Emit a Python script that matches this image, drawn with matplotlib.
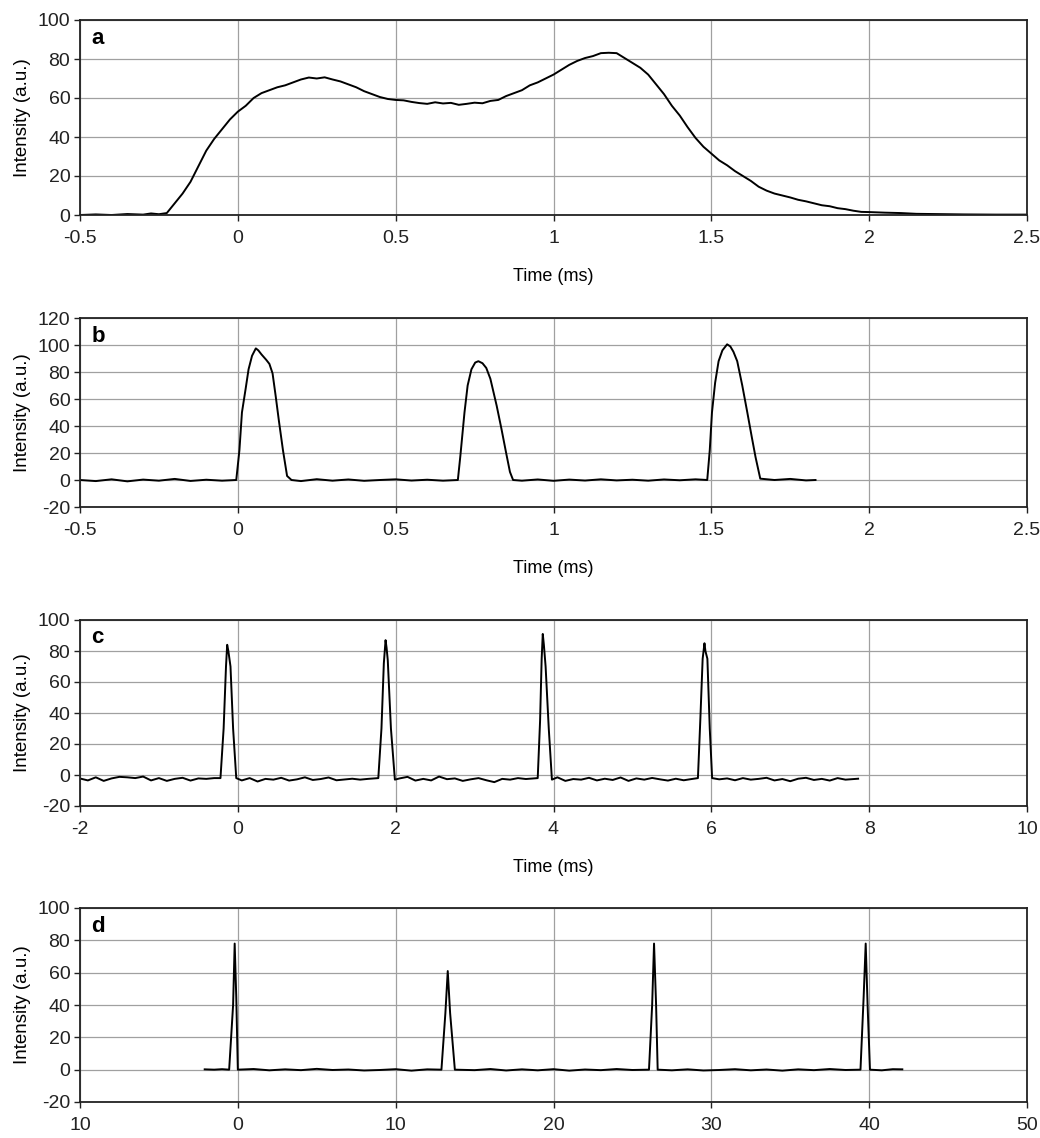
import matplotlib
matplotlib.use("Agg")
import matplotlib.pyplot as plt

plt.rcParams['font.family'] = ['Liberation Sans', 'DejaVu Sans']
plt.rcParams['axes.unicode_minus'] = False

# --- panel a: single broad pulse ---
a_t = [-0.5, -0.45, -0.4, -0.35, -0.3, -0.275, -0.25, -0.225, -0.2, -0.175,
       -0.15, -0.125, -0.1, -0.075, -0.05, -0.025, 0.0, 0.025, 0.05, 0.075,
       0.1, 0.125, 0.15, 0.175, 0.2, 0.225, 0.25, 0.275, 0.3, 0.325,
       0.35, 0.375, 0.4, 0.425, 0.45, 0.475, 0.5, 0.525, 0.55, 0.575,
       0.6, 0.625, 0.65, 0.675, 0.7, 0.725, 0.75, 0.775, 0.8, 0.825,
       0.85, 0.875, 0.9, 0.925, 0.95, 0.975, 1.0, 1.025, 1.05, 1.075,
       1.1, 1.125, 1.15, 1.175, 1.2, 1.225, 1.25, 1.275, 1.3, 1.325,
       1.35, 1.375, 1.4, 1.425, 1.45, 1.475, 1.5, 1.525, 1.55, 1.575,
       1.6, 1.625, 1.65, 1.675, 1.7, 1.725, 1.75, 1.775, 1.8, 1.825,
       1.85, 1.875, 1.9, 1.925, 1.95, 1.975, 2.0, 2.05, 2.1, 2.15,
       2.2, 2.3, 2.4, 2.5]
a_v = [0.0, 0.3, 0.0, 0.5, 0.2, 0.8, 0.4, 1.0, 6, 11,
       17, 25, 33, 39, 44, 49, 53, 56, 60, 62.5,
       64, 65.5, 66.5, 68, 69.5, 70.5, 70, 70.6, 69.5, 68.5,
       67, 65.5, 63.5, 62, 60.5, 59.5, 59, 58.8, 58, 57.4,
       57, 57.8, 57.2, 57.5, 56.5, 57, 57.6, 57.3, 58.5, 59,
       61, 62.5, 64, 66.5, 68, 70, 72, 74.5, 77, 79,
       80.5, 81.5, 83, 83.2, 83, 80.5, 78, 75.5, 72, 67,
       62, 56, 51, 45, 39.5, 35, 31.5, 28, 25.5, 22.5,
       20, 17.5, 14.5, 12.5, 11, 10, 9, 7.8, 7, 6,
       5, 4.5, 3.5, 3, 2.2, 1.6, 1.5, 1.2, 1.0, 0.6,
       0.5, 0.3, 0.2, 0.2]

# --- panel b: three pulses ---
b_t = [-0.5, -0.45, -0.4, -0.35, -0.3, -0.25, -0.2, -0.15, -0.1, -0.05,
       -0.005, 0.005, 0.013, 0.025, 0.034, 0.045, 0.057, 0.065, 0.075, 0.09,
       0.1, 0.11, 0.12, 0.13, 0.143, 0.156, 0.17, 0.2, 0.25, 0.3,
       0.35, 0.4, 0.45, 0.5, 0.55, 0.6, 0.65, 0.697, 0.705, 0.718,
       0.728, 0.74, 0.752, 0.762, 0.775, 0.787, 0.8, 0.81, 0.82, 0.835,
       0.85, 0.862, 0.872, 0.9, 0.95, 1.0, 1.05, 1.1, 1.15, 1.2,
       1.25, 1.3, 1.35, 1.4, 1.45, 1.487, 1.495, 1.502, 1.512, 1.523,
       1.535, 1.55, 1.56, 1.57, 1.582, 1.598, 1.614, 1.628, 1.64, 1.655,
       1.7, 1.75, 1.8, 1.83]
b_v = [0, -0.8, 0.5, -1, 0.3, -0.5, 0.8, -0.7, 0.2, -0.5,
       0, 22, 50, 68, 82, 92, 97.5, 96, 93, 89,
       86, 79, 62, 44, 22, 3, 0, -0.8, 0.6, -0.5,
       0.4, -0.6, 0, 0.5, -0.4, 0.2, -0.5, 0, 18, 50,
       70, 82, 87, 88, 86.5, 83, 75, 65, 55, 38,
       20, 6, 0, -0.5, 0.4, -0.6, 0.3, -0.4, 0.5, -0.3,
       0.2, -0.5, 0.4, -0.2, 0.5, 0, 22, 50, 72, 88,
       96, 100.5, 99, 95, 88, 70, 50, 32, 17, 1,
       0, 0.8, -0.3, 0]

# --- panel c: four narrow pulses, 2 ms apart ---
c_t = [-1.98, -1.9, -1.8, -1.7, -1.6, -1.5, -1.4, -1.3, -1.2, -1.1,
       -1.0, -0.9, -0.8, -0.7, -0.6, -0.5, -0.4, -0.3, -0.22, -0.18,
       -0.15, -0.135, -0.12, -0.093, -0.06, -0.02, 0.05, 0.15, 0.25, 0.35,
       0.45, 0.55, 0.65, 0.75, 0.85, 0.95, 1.05, 1.15, 1.25, 1.35,
       1.45, 1.55, 1.65, 1.78, 1.82, 1.85, 1.872, 1.885, 1.9, 1.94,
       1.99, 2.05, 2.15, 2.25, 2.35, 2.45, 2.55, 2.65, 2.75, 2.85,
       2.95, 3.05, 3.15, 3.25, 3.35, 3.45, 3.55, 3.65, 3.8, 3.83,
       3.85, 3.864, 3.878, 3.9, 3.94, 3.98, 4.05, 4.15, 4.25, 4.35,
       4.45, 4.55, 4.65, 4.75, 4.85, 4.95, 5.05, 5.15, 5.25, 5.35,
       5.45, 5.55, 5.65, 5.75, 5.83, 5.86, 5.89, 5.913, 5.925, 5.95,
       5.98, 6.01, 6.1, 6.2, 6.3, 6.4, 6.5, 6.6, 6.7, 6.8,
       6.9, 7.0, 7.1, 7.2, 7.3, 7.4, 7.5, 7.6, 7.7, 7.86]
c_v = [-2.5, -3.5, -1.5, -3.8, -2.2, -1.2, -1.5, -2.0, -1.0, -3.5,
       -2.0, -3.8, -2.5, -1.8, -3.6, -2.2, -2.5, -2.0, -2, 30,
       70, 84, 80, 70, 30, -2, -3.5, -2.0, -4.2, -2.5,
       -3.0, -1.8, -3.6, -2.8, -1.5, -3.2, -2.6, -1.6, -3.4, -2.9,
       -2.4, -3.0, -2.5, -2, 30, 72, 87, 82, 74, 30,
       -3, -2.2, -1.2, -3.6, -2.5, -3.5, -1.0, -2.7, -2.2, -3.8,
       -2.8, -2.0, -3.4, -4.6, -2.5, -3.0, -2.0, -2.6, -2, 35,
       75, 91, 84, 70, 30, -3, -1.5, -3.8, -2.6, -3.0,
       -1.8, -3.5, -2.4, -3.2, -1.6, -3.8, -2.2, -3.0, -1.9, -2.8,
       -3.6, -2.4, -3.4, -2.6, -2, 35, 75, 85, 80, 75,
       30, -2, -2.8, -2.2, -3.4, -2.0, -3.0, -2.5, -1.8, -3.5,
       -2.6, -4.0, -2.4, -1.8, -3.2, -2.5, -3.6, -2.0, -3.0, -2.4]

# --- panel d: four pulses over a long time base ---
d_t = [-2.1, -1.5, -1.0, -0.55, -0.3, -0.2, -0.1, 0.0, 1, 2,
       3, 4, 5, 6, 7, 8, 9, 10, 11, 12,
       12.9, 13.15, 13.3, 13.45, 13.75, 15, 16, 17, 18, 19,
       20, 21, 22, 23, 24, 25, 26.05, 26.25, 26.37, 26.5,
       26.6, 27.5, 28.5, 29.5, 30.5, 31.5, 32.5, 33.5, 34.5, 35.5,
       36.5, 37.5, 38.5, 39.45, 39.65, 39.78, 39.9, 40.05, 40.8, 41.5,
       42.1]
d_v = [0.2, 0.0, 0.3, 0, 40, 78, 45, 0, 0.4, -0.4,
       0.2, -0.3, 0.5, -0.2, 0.1, -0.5, -0.2, 0.3, -0.6, 0.2,
       0, 35, 61, 35, 0, -0.3, 0.4, -0.5, 0.2, -0.4,
       0.3, -0.6, 0.1, -0.3, 0.4, -0.2, 0, 40, 78, 40,
       0, -0.4, 0.2, -0.5, -0.2, 0.3, -0.4, 0.1, -0.6, 0.2,
       -0.3, 0.4, -0.2, 0, 45, 78, 40, 0, -0.4, 0.3,
       0.2]

panels = [
    dict(t=a_t, v=a_v, tag='a', xlim=(-0.5, 2.5), xt=[-0.5, 0, 0.5, 1, 1.5, 2, 2.5],
         xtl=['-0.5', '0', '0.5', '1', '1.5', '2', '2.5'],
         ylim=(0, 100), yt=[0, 20, 40, 60, 80, 100], xlabel='Time (ms)'),
    dict(t=b_t, v=b_v, tag='b', xlim=(-0.5, 2.5), xt=[-0.5, 0, 0.5, 1, 1.5, 2, 2.5],
         xtl=['-0.5', '0', '0.5', '1', '1.5', '2', '2.5'],
         ylim=(-20, 120), yt=[-20, 0, 20, 40, 60, 80, 100, 120], xlabel='Time (ms)'),
    dict(t=c_t, v=c_v, tag='c', xlim=(-2, 10), xt=[-2, 0, 2, 4, 6, 8, 10],
         xtl=['-2', '0', '2', '4', '6', '8', '10'],
         ylim=(-20, 100), yt=[-20, 0, 20, 40, 60, 80, 100], xlabel='Time (ms)'),
    dict(t=d_t, v=d_v, tag='d', xlim=(-10, 50), xt=[-10, 0, 10, 20, 30, 40, 50],
         xtl=['10', '0', '10', '20', '30', '40', '50'],
         ylim=(-20, 100), yt=[-20, 0, 20, 40, 60, 80, 100], xlabel=None),
]

# axes boxes in pixels: (top, bottom)
boxes = [(20, 215), (318, 507), (620, 806), (908, 1102)]
W, H = 1040, 1138
left, right = 80, 1027

fig = plt.figure(figsize=(W / 100, H / 100), dpi=100)
for p, (top, bot) in zip(panels, boxes):
    ax = fig.add_axes([left / W, 1 - bot / H, (right - left) / W, (bot - top) / H])
    ax.plot(p['t'], p['v'], color='black', lw=1.4)
    ax.set_xlim(*p['xlim'])
    ax.set_ylim(*p['ylim'])
    ax.set_xticks(p['xt'])
    ax.set_xticklabels(p['xtl'])
    ax.set_yticks(p['yt'])
    ax.grid(True, color='#a0a0a0', lw=0.9)
    ax.set_axisbelow(True)
    for s in ax.spines.values():
        s.set_color('#222222')
        s.set_linewidth(1.3)
    ax.tick_params(axis='x', direction='out', length=4, width=1, colors='#222222',
                   labelsize=14, pad=7)
    ax.tick_params(axis='y', direction='out', length=4, width=1, colors='#222222',
                   labelsize=14, pad=3)
    ax.set_ylabel('Intensity (a.u.)', fontsize=13.5, labelpad=5)
    if p['xlabel']:
        ax.set_xlabel(p['xlabel'], fontsize=13, labelpad=15)
    ax.text(0.012, 0.96, p['tag'], transform=ax.transAxes, fontsize=16,
            fontweight='bold', va='top', ha='left')

fig.savefig('out.png', dpi=100)
